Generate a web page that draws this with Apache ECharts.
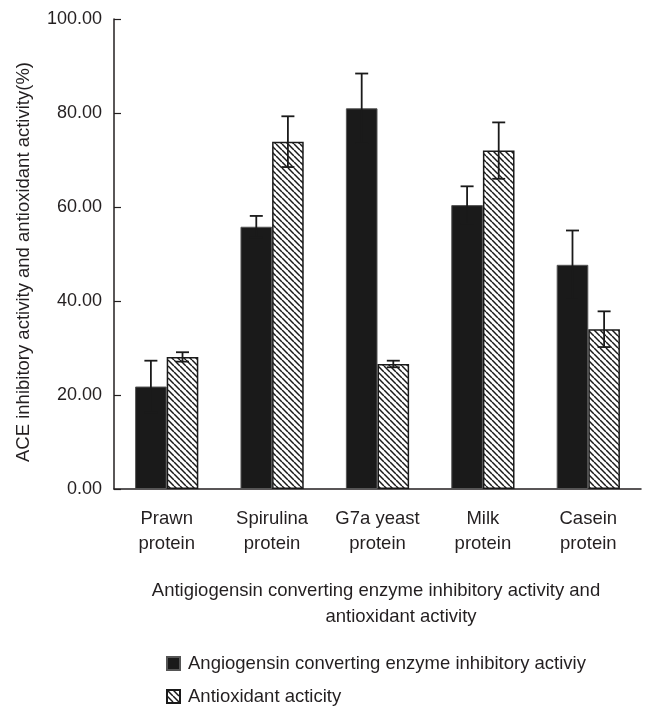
<!DOCTYPE html>
<html><head><meta charset="utf-8">
<script src="https://cdn.jsdelivr.net/npm/echarts@6/dist/echarts.min.js"></script>
<style>html,body{margin:0;padding:0;background:#fff}#c{width:650px;height:708px}</style>
</head><body><div id="c"></div>
<script>
var categories = ['Prawn\nprotein', 'Spirulina\nprotein', 'G7a yeast\nprotein', 'Milk\nprotein', 'Casein\nprotein'];
var aceValues = [21.8, 55.8, 81.0, 60.4, 47.7];
var aceErrors = [5.5, 2.3, 7.4, 4.0, 7.3];
var antiValues = [28.1, 73.9, 26.6, 72.0, 34.0];
var antiErrors = [1.0, 5.4, 0.7, 6.0, 3.8];
var yTicks = [0, 20, 40, 60, 80, 100];
var seriesNames = ['Angiogensin converting enzyme inhibitory activiy', 'Antioxidant acticity'];

function makeHatch() {
  var s = 6;
  var c = document.createElement('canvas');
  c.width = s; c.height = s;
  var g = c.getContext('2d');
  g.fillStyle = '#fff'; g.fillRect(0, 0, s, s);
  g.strokeStyle = '#1a1a1a'; g.lineWidth = 1.5;
  [-s, 0, s].forEach(function (k) {
    g.beginPath(); g.moveTo(0, k); g.lineTo(s, s + k); g.stroke();
  });
  return c;
}
var hatch = { image: makeHatch(), repeat: 'repeat' };

var chart = echarts.init(document.getElementById('c'));
var FONT = 'Liberation Sans, Arial, sans-serif';
var TXT = '#231f20';

function errSeries(values, errors, side) {
  var data = values.map(function (v, i) { return [i, v - errors[i], v + errors[i]]; });
  return {
    type: 'custom', silent: true, z: 10,
    data: data,
    encode: { x: 0, y: [1, 2] },
    renderItem: function (params, api) {
      var i = api.value(0);
      var bw = api.size([1, 0])[0] * 0.3;
      var lo = api.coord([i, api.value(1)]);
      var hi = api.coord([i, api.value(2)]);
      var x = lo[0] + side * bw / 2;
      var cap = 6.5;
      var st = { stroke: '#1a1a1a', lineWidth: 1.8 };
      return { type: 'group', children: [
        { type: 'line', shape: { x1: x, y1: lo[1], x2: x, y2: hi[1] }, style: st },
        { type: 'line', shape: { x1: x - cap, y1: hi[1], x2: x + cap, y2: hi[1] }, style: st },
        { type: 'line', shape: { x1: x - cap, y1: lo[1], x2: x + cap, y2: lo[1] }, style: st }
      ]};
    }
  };
}

var legendBase = {
  orient: 'horizontal', left: 166, padding: 0,
  itemWidth: 13, itemHeight: 13, itemGap: 10,
  icon: 'rect',
  textStyle: { fontFamily: FONT, fontSize: 18.5, lineHeight: 20, color: TXT, padding: [0, 0, 0, 3] }
};

chart.setOption({
  animation: false,
  textStyle: { fontFamily: FONT, color: TXT },
  grid: { left: 114, right: 9, top: 19, bottom: 219 },
  legend: [
    Object.assign({}, legendBase, { top: 653.5, data: [seriesNames[0]] }),
    Object.assign({}, legendBase, { top: 686.5, data: [seriesNames[1]] })
  ],
  xAxis: {
    type: 'category', data: categories,
    axisLine: { lineStyle: { color: '#231f20', width: 1.5 } },
    axisTick: { inside: true, length: 5, lineStyle: { color: '#231f20', width: 1.2 } },
    axisLabel: { color: TXT, fontSize: 18.5, lineHeight: 25, margin: 17, interval: 0 },
    name: '{a|Antigiogensin converting enzyme inhibitory activity and}\n{b|antioxidant activity}',
    nameLocation: 'middle', nameGap: 89,
    nameTextStyle: { color: TXT, fontSize: 18.5, lineHeight: 26,
      rich: { a: { fontSize: 18.5, lineHeight: 26, padding: [0, 3, 0, 0], color: TXT }, b: { fontSize: 18.5, lineHeight: 26, padding: [0, 0, 0, 47], color: TXT } } }
  },
  yAxis: {
    type: 'value', min: 0, max: 100, interval: 20,
    splitLine: { show: false },
    axisLine: { show: true, lineStyle: { color: '#231f20', width: 1.5 } },
    axisTick: { show: true, inside: true, length: 7, lineStyle: { color: '#231f20', width: 1.2 } },
    axisLabel: { color: TXT, fontSize: 18, margin: 12,
      formatter: function (v) { return yTicks.indexOf(v) >= 0 ? v.toFixed(2) : ''; } },
    name: 'ACE inhibitory activity and antioxidant activity(%)',
    nameLocation: 'middle', nameGap: 81,
    nameTextStyle: { color: TXT, fontSize: 18.5, padding: [0, 16, 0, 0] }
  },
  series: [
    { name: seriesNames[0], type: 'bar', data: aceValues, barWidth: '30%', barGap: '0%',
      itemStyle: { color: '#1a1a1a', borderColor: '#555', borderWidth: 1 } },
    { name: seriesNames[1], type: 'bar', data: antiValues, barWidth: '30%', barGap: '0%',
      itemStyle: { color: hatch, borderColor: '#1a1a1a', borderWidth: 1.5 } },
    errSeries(aceValues, aceErrors, -1),
    errSeries(antiValues, antiErrors, 1)
  ]
});
</script></body></html>
